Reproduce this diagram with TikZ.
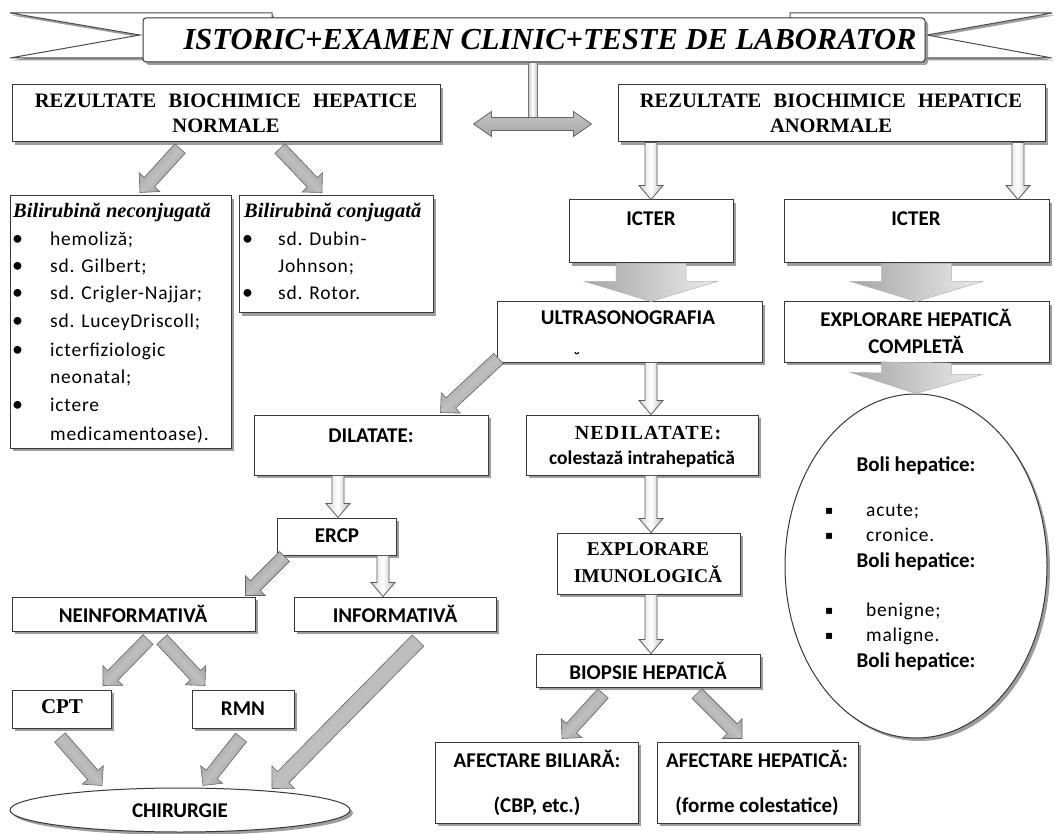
\documentclass[tikz,border=0pt]{standalone}
\usepackage{fontspec}
\setmainfont{Liberation Serif}
\newfontfamily\calsans{Carlito}
\newfontfamily\calspaced[LetterSpace=4]{Carlito}
\newfontfamily\serifspaced[LetterSpace=6]{Liberation Serif}
\newfontfamily\symfont{DejaVu Sans}
\usetikzlibrary{shapes.geometric,shadows,fit,calc}

% Block arrow drawn from one point to another:
% #1 style, #2 start, #3 end, #4 half shaft width, #5 half head width, #6 head length
\makeatletter
\newcommand\blockarrow[6]{%
  \path #2 coordinate (ba-s) #3 coordinate (ba-e);%
  \pgfmathanglebetweenpoints{\pgfpointanchor{ba-s}{center}}{\pgfpointanchor{ba-e}{center}}%
  \edef\ba@ang{\pgfmathresult}%
  \pgfpointdiff{\pgfpointanchor{ba-s}{center}}{\pgfpointanchor{ba-e}{center}}%
  \edef\ba@dx{\the\pgf@x}\edef\ba@dy{\the\pgf@y}%
  \pgfmathsetmacro\ba@len{veclen(\ba@dx,\ba@dy)}%
  \pgfmathsetmacro\ba@neck{\ba@len-#6}%
  \begin{scope}[shift={(ba-s)},rotate=\ba@ang]
    \path[#1,shading angle=\ba@ang] (0pt,-#4pt) -- (\ba@neck pt,-#4pt) -- (\ba@neck pt,-#5pt)
      -- (\ba@len pt,0pt) -- (\ba@neck pt,#5pt) -- (\ba@neck pt,#4pt) -- (0pt,#4pt) -- cycle;
  \end{scope}}
\makeatother

\begin{document}
\begin{tikzpicture}[x=1pt,y=-1pt,
  box/.style={draw=black!78,line width=1pt,fill=white,inner sep=0pt,
    drop shadow={shadow xshift=3pt,shadow yshift=-3pt,fill=black!45,opacity=0.85}},
  tailshape/.style={draw=black!70,line width=1pt,fill=white,
    drop shadow={shadow xshift=2pt,shadow yshift=-2.5pt,fill=black!45,opacity=0.85}},
  sb/.style={inner sep=0pt,align=center,font=\calsans\bfseries\fontsize{21}{27}\selectfont},
  rb/.style={inner sep=0pt,align=center,font=\bfseries\fontsize{20.5}{25}\selectfont},
  li/.style={inner sep=0pt,anchor=base west,font=\calspaced\fontsize{19.5}{22}\selectfont},
  bl/.style={inner sep=0pt,anchor=base west,font=\calsans\fontsize{22}{22}\selectfont},
  ttl/.style={inner sep=0pt,anchor=base west,font=\bfseries\itshape\fontsize{20.5}{22}\selectfont},
  hollowarr/.style={draw=black!65,line width=0.8pt,top color=gray!55,bottom color=gray!30,middle color=white},
  diagarr/.style={draw=black!60,line width=0.6pt,top color=gray!90,bottom color=gray!85,middle color=gray!50},
  bigarr/.style={draw=gray!60,line width=0.5pt,left color=gray!15,right color=gray!70},
  dblarr/.style={draw=black!60,line width=0.8pt,top color=gray!45,bottom color=gray!70},
  stemfill/.style={draw=black!55,line width=0.6pt,left color=gray!45,right color=gray!45,middle color=white}
]
\useasboundingbox (0,0) rectangle (1055,834);

% ---------- title ribbon ----------
\draw[tailshape] (10,13) -- (272,13) -- (272,40) -- (143,58) -- (10,58) -- (140,35) -- cycle;
\draw[tailshape] (1052,13) -- (790,13) -- (790,40) -- (925,58) -- (1052,58) -- (927,35) -- cycle;
\node[box,rounded corners=3pt,fit={(143,18) (925,62)}] (banner) {};
\node[inner sep=0pt,font=\bfseries\itshape\fontsize{30.5}{32}\selectfont] (bannert) at (550,40)
  {ISTORIC+EXAMEN CLINIC+TESTE DE LABORATOR};

% ---------- boxes ----------
\node[box,fit={(12,85) (440,142)}] (rezN) {};
\node[box,fit={(618,85) (1045,142)}] (rezA) {};
\node[box,fit={(10,196) (231,448)}] (bilN) {};
\node[box,fit={(239,196) (433,313)}] (bilC) {};
\node[box,fit={(569,200) (733,263)}] (icter1) {};
\node[box,fit={(784,200) (1049,263)}] (icter2) {};
\node[box,fit={(497,302) (762,362)}] (ultra) {};
\node[box,fit={(784,302) (1049,362)}] (explH) {};
\node[box,ellipse,minimum width=262,minimum height=344] (boli) at (916,566) {};
\node[box,fit={(254,415) (488,475)}] (dilat) {};
\node[box,fit={(526,415) (758,475)}] (nedil) {};
\node[box,fit={(277,518) (396,555)}] (ercp) {};
\node[box,fit={(557,533) (740,594)}] (explI) {};
\node[box,fit={(12,597) (255,631)}] (neinf) {};
\node[box,fit={(294,597) (496,631)}] (inform) {};
\node[box,fit={(536,654) (760,687)}] (biopsie) {};
\node[box,fit={(12,690) (111,728)}] (cpt) {};
\node[box,fit={(192,690) (294,728)}] (rmn) {};
\node[box,ellipse,minimum width=340,minimum height=44] (chir) at (180,810) {};
\node[box,fit={(435,742) (638,823)}] (afB) {};
\node[box,fit={(657,742) (858,823)}] (afH) {};

% ---------- texts ----------
\node[rb] (rezNt) at (226,113) {REZULTATE\hspace{0.6em}BIOCHIMICE\hspace{0.6em}HEPATICE\\NORMALE};
\node[rb] (rezAt) at (831,113) {REZULTATE\hspace{0.6em}BIOCHIMICE\hspace{0.6em}HEPATICE\\ANORMALE};

\node[ttl] (bilNt) at (13,218) {Bilirubină neconjugată};
\foreach \yy/\txt [count=\i] in {246/hemoliză;, 273/sd. Gilbert;, 300/sd. Crigler-Najjar;,
    328/sd. LuceyDriscoll;, 356/icterfiziologic, 383/neonatal;, 411/ictere, 440/medicamentoase).}
  \node[li] (bn\i) at (50,\yy) {\txt};
\foreach \yy [count=\i] in {246,273,300,328,356,411}
  \node[bl] (bnb\i) at (12,\yy) {•};

\node[ttl] (bilCt) at (244,218) {Bilirubină conjugată};
\node[li] (bc1) at (278,246) {sd. Dubin-};
\node[li] (bc2) at (278,273) {Johnson;};
\node[li] (bc3) at (278,300) {sd. Rotor.};
\node[bl] (bcb1) at (242,246) {•};
\node[bl] (bcb2) at (242,300) {•};

\node[sb] (icter1t) at (651,219) {ICTER};
\node[sb] (icter2t) at (916,219) {ICTER};
\node[sb] (ultrat) at (628,318) {ULTRASONOGRAFIA};
\node[inner sep=0pt,font=\calsans\bfseries\fontsize{16}{16}\selectfont] (ultram) at (577,358) {˘};
\node[sb] (explHt) at (916,331) {EXPLORARE HEPATICĂ\\COMPLETĂ};

\node[sb] (dilatt) at (371,436) {DILATATE:};
\node[inner sep=0pt,font=\serifspaced\bfseries\fontsize{20}{20}\selectfont] (nedilt1) at (648,433) {NEDILATATE:};
\node[inner sep=0pt,font=\calsans\bfseries\fontsize{19.5}{20}\selectfont] (nedilt2) at (642,459) {colestază intrahepatică};
\node[sb] (ercpt) at (337,536) {ERCP};
\node[inner sep=0pt,align=center,font=\bfseries\fontsize{19.5}{27}\selectfont] (explIt) at (648,563) {EXPLORARE\\IMUNOLOGICĂ};
\node[sb] (neinft) at (133,614) {NEINFORMATIVĂ};
\node[sb] (informt) at (395,614) {INFORMATIVĂ};
\node[sb] (biopsiet) at (648,671) {BIOPSIE HEPATICĂ};
\node[inner sep=0pt,font=\bfseries\fontsize{21}{21}\selectfont] (cptt) at (62,707) {CPT};
\node[sb] (rmnt) at (243,709) {RMN};
\node[sb] (chirt) at (180,811) {CHIRURGIE};
\node[sb] (afBt) at (537,783) {AFECTARE BILIARĂ:\\[18pt](CBP, etc.)};
\node[sb] (afHt) at (757,783) {AFECTARE HEPATICĂ:\\[18pt](forme colestatice)};

% texts inside the ellipse
\node[sb] (boli1) at (916,466) {Boli hepatice:};
\node[li] (bo1) at (866,516) {acute;};
\node[li] (bo2) at (866,541) {cronice.};
\node[sb] (boli2) at (916,562) {Boli hepatice:};
\node[li] (bo3) at (866,616) {benigne;};
\node[li] (bo4) at (866,641) {maligne.};
\node[sb] (boli3) at (916,662) {Boli hepatice:};
\foreach \yy [count=\i] in {516,541,616,641}
  \node[inner sep=0pt,anchor=base west,font=\symfont\fontsize{12}{12}\selectfont] (bob\i) at (825,\yy-2) {▪};

% ---------- connectors ----------
% stem from the title and the two-headed arrow
\coordinate (hub) at (532.5,124);
\draw[stemfill] ([xshift=-4.5pt]hub |- banner.south) rectangle ([xshift=4.5pt,yshift=6.5pt]hub);
\begin{scope}[shift={(hub)}]
  \draw[dblarr] (-59pt,0pt) -- (-41pt,12.5pt) -- (-41pt,6.5pt) -- (41pt,6.5pt) -- (41pt,12.5pt)
    -- (59pt,0pt) -- (41pt,-12.5pt) -- (41pt,-6.5pt) -- (-41pt,-6.5pt) -- (-41pt,-12.5pt) -- cycle;
\end{scope}

\blockarrow{diagarr}{([xshift=-46pt,yshift=-6pt]rezN.south)}{([xshift=19.5pt,yshift=3pt]bilN.north)}{7}{14}{14}
\blockarrow{diagarr}{([xshift=54pt,yshift=-6pt]rezN.south)}{([xshift=-14pt,yshift=3pt]bilC.north)}{7}{14}{14}
\blockarrow{hollowarr}{(rezA.south -| icter1.north)}{(icter1.north)}{6}{12}{14}
\blockarrow{hollowarr}{([xshift=186.5pt]rezA.south)}{([xshift=101.5pt]icter2.north)}{6}{12}{14}
\blockarrow{bigarr}{(icter1.south)}{(icter1.south |- ultra.north)}{35}{66}{20}
\blockarrow{bigarr}{(icter2.south)}{(explH.north)}{35}{66}{20}
\blockarrow{bigarr}{(explH.south)}{(boli.north)}{35}{66}{20}
\blockarrow{diagarr}{([xshift=2pt,yshift=4pt]ultra.south west)}{([xshift=-48pt,yshift=2pt]dilat.north east)}{7}{14}{14}
\blockarrow{hollowarr}{([xshift=21.5pt]ultra.south)}{([xshift=9pt]nedil.north)}{6}{12}{14}
\blockarrow{hollowarr}{([xshift=-33pt]dilat.south)}{([xshift=1.5pt]ercp.north)}{6}{12}{14}
\blockarrow{hollowarr}{([xshift=9pt]nedil.south)}{([xshift=2.5pt]explI.north)}{6}{12}{14}
\blockarrow{hollowarr}{([xshift=46.5pt]ercp.south)}{([xshift=-12pt]inform.north)}{6}{12}{14}
\blockarrow{hollowarr}{([xshift=2.5pt]explI.south)}{([xshift=3pt]biopsie.north)}{6}{12}{14}
\blockarrow{diagarr}{([xshift=8pt,yshift=-1pt]ercp.south west)}{([xshift=-10pt,yshift=1pt]neinf.north east)}{7}{14}{14}
\blockarrow{diagarr}{([xshift=14.5pt,yshift=-8pt]neinf.south)}{([xshift=41.5pt,yshift=4pt]cpt.north)}{7}{14}{14}
\blockarrow{diagarr}{([xshift=28.5pt,yshift=-8pt]neinf.south)}{([xshift=-38pt,yshift=4pt]rmn.north)}{7}{14}{14}
\blockarrow{diagarr}{([xshift=-1.5pt,yshift=-9pt]cpt.south)}{([xshift=-78pt,yshift=2pt]chir.north)}{7}{14}{14}
\blockarrow{diagarr}{([xshift=-2pt,yshift=-9pt]rmn.south)}{([xshift=23pt,yshift=2pt]chir.north)}{7}{14}{14}
\blockarrow{diagarr}{([xshift=23pt,yshift=-9pt]inform.south)}{([xshift=92pt,yshift=-1pt]chir.north)}{8}{16}{16}
\blockarrow{diagarr}{([xshift=-45pt,yshift=-6pt]biopsie.south)}{([xshift=25.5pt,yshift=3pt]afB.north)}{7}{14}{14}
\blockarrow{diagarr}{([xshift=49pt,yshift=-6pt]biopsie.south)}{([xshift=-15.5pt,yshift=3pt]afH.north)}{7}{14}{14}
\end{tikzpicture}
\end{document}
